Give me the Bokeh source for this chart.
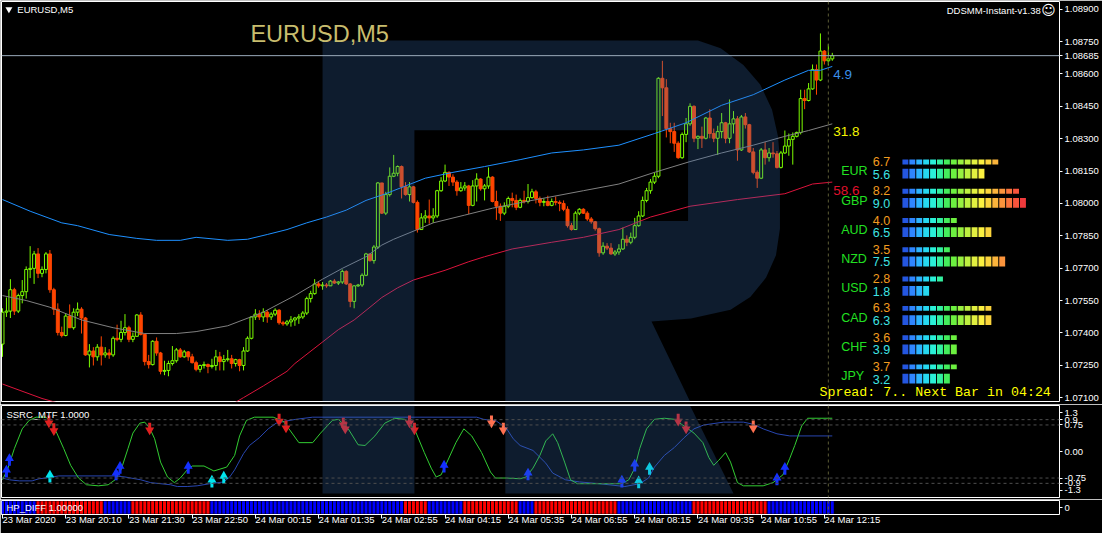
import math
from bokeh.plotting import figure
from bokeh.models import Range1d, FixedTicker, Span, PrintfTickFormatter
from bokeh.layouts import column
from bokeh.embed import file_html
from bokeh.resources import INLINE
from bokeh.core.properties import value

# ---------------- data: EURUSD M5 candles (prices in points, 1e-5) ----------------
open0 = 107348
close_pts = [107496,107501,107600,107501,107573,107591,107694,107699,107766,107676,
             107694,107766,107600,107510,107402,107388,107478,107424,107496,107510,
             107469,107298,107316,107289,107334,107298,107307,107298,107375,107370,
             107402,107424,107370,107384,107483,107393,107267,107253,107361,107307,
             107222,107226,107258,107271,107321,107289,107312,107289,107262,107231,
             107249,107253,107244,107249,107289,107267,107276,107280,107258,107276,
             107249,107316,107375,107474,107487,107474,107496,107474,107487,107505,
             107447,107442,107451,107460,107469,107474,107492,107559,107582,107627,
             107618,107622,107618,107640,107631,107636,107685,107627,107546,107618,
             107622,107667,107766,107735,107798,108095,107955,108041,108126,108140,
             108171,108077,108041,108077,108005,107879,107933,107942,107933,107942,
             108059,108104,108144,108122,108099,108059,108072,108081,107991,108081,
             108113,108068,108081,108122,108009,107987,107955,107987,108023,108014,
             107982,108014,108009,108027,108054,108023,108005,108009,107991,108009,
             108005,108000,107973,107897,107879,107955,107973,107955,107928,107915,
             107883,107771,107802,107793,107766,107775,107789,107834,107820,107843,
             107897,107942,108014,108059,108099,108126,108580,108536,108347,108333,
             108279,108212,108320,108369,108450,108302,108311,108302,108396,108324,
             108302,108333,108374,108302,108369,108392,108248,108401,108365,108239,
             108144,108117,108248,108212,108234,108230,108167,108234,108266,108297,
             108311,108329,108486,108477,108531,108621,108572,108706,108661,108670,
             108685]
high_pts = [107514,107564,107649,107609,107582,107645,107708,107802,107780,107793,
            107708,107775,107784,107609,107537,107429,107492,107532,107514,107541,
            107519,107474,107348,107334,107348,107384,107334,107325,107384,107438,
            107456,107487,107433,107402,107487,107496,107397,107298,107366,107379,
            107312,107271,107271,107339,107330,107330,107321,107316,107303,107271,
            107253,107267,107258,107280,107321,107312,107298,107321,107298,107280,
            107280,107334,107384,107478,107510,107505,107514,107505,107496,107514,
            107510,107456,107460,107478,107474,107487,107501,107568,107595,107649,
            107636,107636,107631,107645,107649,107640,107694,107690,107631,107622,
            107627,107676,107771,107766,107807,108099,108095,108054,108167,108225,
            108176,108176,108099,108099,108081,108014,107955,107969,108018,107978,
            108063,108122,108180,108149,108135,108108,108099,108099,108086,108108,
            108140,108117,108090,108167,108126,108059,108000,108005,108032,108050,
            108041,108023,108059,108090,108068,108063,108032,108023,108036,108023,
            108032,108014,108014,107987,107910,107964,107978,107978,107964,107937,
            107919,107888,107820,107816,107816,107784,107811,107888,107852,107865,
            107933,107964,108032,108072,108113,108144,108585,108661,108576,108374,
            108374,108288,108329,108396,108464,108455,108315,108356,108401,108437,
            108347,108360,108419,108378,108482,108428,108405,108410,108419,108369,
            108257,108153,108257,108284,108257,108284,108243,108243,108338,108324,
            108329,108333,108527,108527,108558,108644,108644,108788,108711,108738,
            108698]
low_pts = [107289,107474,107469,107483,107492,107537,107559,107654,107627,107654,
           107658,107676,107586,107483,107388,107379,107384,107424,107415,107478,
           107397,107294,107240,107249,107271,107249,107285,107280,107289,107361,
           107357,107388,107357,107357,107384,107388,107249,107235,107249,107294,
           107208,107204,107199,107249,107262,107285,107285,107271,107258,107222,
           107217,107235,107213,107235,107226,107226,107226,107267,107235,107244,
           107222,107226,107312,107370,107460,107460,107451,107447,107460,107478,
           107438,107433,107433,107429,107433,107442,107465,107483,107541,107577,
           107609,107600,107609,107618,107627,107622,107627,107622,107519,107514,
           107613,107613,107663,107730,107721,107789,107951,107946,108032,108122,
           108126,108023,108036,108009,108000,107865,107879,107910,107906,107910,
           107933,108054,108099,108081,108081,108036,108054,108059,107951,107987,
           108009,108059,108014,108068,108005,107924,107919,107946,107978,107982,
           107969,107978,108000,108000,108023,108000,107987,107987,107987,107987,
           107991,107964,107964,107888,107874,107879,107946,107951,107919,107906,
           107874,107753,107762,107784,107762,107757,107762,107784,107802,107811,
           107834,107892,107937,108005,108045,108090,108117,108405,108306,108279,
           108239,108207,108207,108284,108360,108284,108252,108257,108297,108302,
           108284,108225,108302,108279,108279,108324,108198,108243,108347,108234,
           108135,108072,108113,108180,108194,108212,108162,108162,108230,108221,
           108180,108306,108320,108437,108473,108527,108504,108567,108644,108639,
           108661]
current_price = 1.08685

# channel lines (sampled vertices: bar index, price points)
blue_idx = [0,7,15,19,27,34,39,45,49,57,62,67,72,77,82,87,92,97,102,107,114,122,131,139,147,156,165,173,182,190,198,204,207,210]
blue_pts = [108018,107964,107910,107897,107856,107838,107829,107829,107843,107829,107834,107856,107879,107910,107937,107969,108014,108045,108081,108117,108144,108171,108203,108234,108248,108270,108324,108374,108455,108504,108572,108617,108617,108635]
gray_idx = [0,6,12,20,28,36,44,49,57,66,74,81,86,92,96,99,105,109,117,124,134,147,156,165,174,182,190,198,204,210]
gray_pts = [107573,107550,107519,107460,107424,107397,107397,107406,107433,107496,107573,107649,107699,107753,107807,107834,107879,107910,107946,107978,108014,108059,108090,108144,108194,108234,108270,108311,108338,108369]
red_idx = [0,10,25,40,50,61,66,72,74,85,89,93,96,100,104,112,118,122,129,139,147,156,164,174,186,198,205,210]
red_pts = [107163,107096,107019,106965,106983,107100,107154,107222,107258,107415,107460,107519,107564,107609,107645,107690,107730,107753,107789,107820,107843,107879,107937,107987,108018,108045,108090,108099]
band_texts = ["4.9", "31.8", "58.6"]

price_ticks = [1.07100,1.07250,1.07400,1.07550,1.07700,1.07850,1.08000,1.08150,1.08300,1.08450,1.08600,1.08750,1.08900]

# currency strength meter
currencies = ["EUR","GBP","AUD","NZD","USD","CAD","CHF","JPY"]
strength_a = [6.7, 8.2, 4.0, 3.5, 2.8, 6.3, 3.6, 3.7]
strength_b = [5.6, 9.0, 6.5, 7.5, 1.8, 6.3, 3.9, 3.2]

# SSRC_MTF oscillator
ssrc_idx = [0,1.25,3,5,6.75,8.5,11,12.5,13.75,15.5,17.25,19.25,21.25,24.25,26.75,28.5,30,31.75,33,34.75,36,37.25,38.5,40,41.75,43.5,45,46.75,48,51,53.5,56.75,58.75,60,61.75,63.75,68.5,71,72.5,75,78.5,80.5,83.5,85,87.5,90,91.75,94.25,96.75,99.25,101.75,104.25,106.75,108.5,109.75,111,112.5,114.75,116.75,118.75,121.25,123.5,124.75,127.5,131,132.5,134.25,136,137.5,139.25,140.5,142.25,143.75,145.5,156.75,158.5,160,161.25,163,165,167.5,170,172.5,175,177.25,178.75,180,181.25,183,184.25,186,187.5,192.5,195,197.5,199.25,200.5,202.25,203.75,210]
ssrc_val = [-0.80,-0.52,0.08,0.64,0.88,0.97,0.97,0.80,0.52,0.08,-0.39,-0.75,-0.94,-0.97,-0.94,-0.80,-0.52,0.08,0.52,0.80,0.83,0.66,0.36,-0.30,-0.72,-0.88,-0.75,-0.52,-0.41,-0.41,-0.55,-0.44,-0.11,0.44,0.88,0.97,0.97,0.86,0.64,0.25,0.25,0.52,0.88,0.91,0.64,0.19,0.17,0.44,0.80,0.94,0.91,0.64,-0.03,-0.47,-0.72,-0.66,-0.30,0.25,0.64,0.44,-0.03,-0.58,-0.75,-0.75,-0.77,-0.72,-0.47,-0.11,0.30,0.50,0.25,-0.30,-0.80,-0.91,-0.91,-0.80,-0.47,0.08,0.64,0.91,0.94,0.91,0.72,0.52,0.25,-0.17,-0.39,-0.25,-0.03,-0.30,-0.88,-0.97,-0.97,-0.88,-0.66,-0.19,0.17,0.72,0.94,0.94]
mtf_idx = [0,1.75,4.25,7.5,9.25,11,14.25,28.5,31,35,37.5,42.5,44.25,46.75,49.25,52.5,56,57.5,58.75,61,62.5,65,67.25,69.25,71.75,74.25,78.5,120,121.75,125,127.5,129.25,131,134.25,137.5,139.25,142.5,146,151,157.5,161.25,163.5,165,167.5,170,172.5,175,177.5,182.5,187.5,190,192.5,196,199.25,210]
mtf_val = [-0.75,-0.80,-0.83,-0.83,-0.77,-0.75,-0.69,-0.69,-0.72,-0.80,-0.88,-0.94,-0.99,-0.99,-0.97,-0.91,-0.86,-0.72,-0.52,-0.06,0.17,0.39,0.64,0.80,0.86,0.91,0.97,0.97,0.91,0.86,0.66,0.36,0.17,0.03,-0.33,-0.61,-0.80,-0.86,-0.91,-0.99,-0.91,-0.75,-0.44,-0.11,0.11,0.39,0.64,0.75,0.83,0.83,0.77,0.64,0.50,0.44,0.44]
ssrc_levels = [0.9, 0.75, -0.75, -0.9]

dn_red_idx = [11.75,13,37.25,70,71.75,86.25,86.75,103,104.25,171,173]
dn_red_val = [0.86,0.64,0.66,0.91,0.72,0.80,0.69,0.86,0.66,0.91,0.69]
dn_sal_idx = [123.75,126.75,190]
dn_sal_val = [0.86,0.66,0.72]
up_blue_idx = [1,1.75,28.75,29.75,47,111.75,133,156.75,160,196,198]
up_blue_val = [-0.58,-0.25,-0.66,-0.47,-0.47,-0.44,-0.66,-0.86,-0.41,-0.80,-0.50]
up_cyan_idx = [12,53,56,161,163.75]
up_cyan_val = [-0.72,-0.86,-0.75,-0.88,-0.50]

# HP_DIFF state runs (bars per run, +1 blue / -1 red)
hp_run_len = [9,17,7,20,49,6,9,14,4,21,19,19,17]
hp_run_sign = [1,-1,1,-1,1,-1,1,-1,1,-1,1,-1,1]

time_ticks = [0,16,32,48,64,80,96,112,128,144,160,176,192,208]
time_labels = ["23 Mar 2020","23 Mar 20:10","23 Mar 21:30","23 Mar 22:50","24 Mar 00:15",
               "24 Mar 01:35","24 Mar 02:55","24 Mar 04:15","24 Mar 05:35","24 Mar 06:55",
               "24 Mar 08:15","24 Mar 09:35","24 Mar 10:55","24 Mar 12:15"]
shift_bar = 209

# ---------------- styling constants ----------------
FW = 1058
FONT = "Liberation Sans"
GREEN = "#7cfc00"
RED = "#ff4500"
LOGO = "#3870b8"
SEG_COLORS = ["#2456e0","#2f86ff","#2db4ff","#26d8f0","#2af0d8","#34f0a0","#44ee5c","#6cf040",
              "#98f040","#bef040","#e2f040","#fbf040","#fbd43c","#fbb43c","#fb943c","#fb743c",
              "#f8543c","#f03a3c"]

xr = Range1d(-0.25, 267.5)


def base_fig(frame_h, yr, **kw):
    f = figure(frame_width=FW, frame_height=frame_h, x_range=xr, y_range=yr,
               output_backend="svg", toolbar_location=None, y_axis_location="right",
               min_border_left=1, min_border_right=43,
               background_fill_color="black", border_fill_color="black",
               outline_line_color="white", outline_line_width=1, **kw)
    f.grid.visible = False
    ax = f.yaxis[0]
    ax.axis_line_color = None
    ax.major_tick_line_color = "white"
    ax.major_tick_out = 3
    ax.major_tick_in = 0
    ax.minor_tick_line_color = None
    ax.major_label_text_color = "white"
    ax.major_label_text_font = FONT
    ax.major_label_text_font_size = "9.5px"
    ax.major_label_standoff = 2
    f.add_layout(Span(location=shift_bar, dimension="height", line_color="#5c5c36",
                      line_dash="3 3", line_width=1))
    return f


def txt(fig, x, y, text, color, size, font=FONT, align="left", baseline="middle", **kw):
    fig.text(x=x, y=y, text=text, text_color=color, text_font=value(font),
             text_font_size=value(size), text_align=align, text_baseline=baseline, **kw)


# ---------------- main price panel ----------------
p = base_fig(400, Range1d(1.07082, 1.08936), x_axis_location=None,
             min_border_top=1, min_border_bottom=3)
p.extra_x_ranges = {"px": Range1d(2, 1073)}
p.extra_y_ranges = {"py": Range1d(412, 2)}
p.yaxis[0].ticker = FixedTicker(ticks=price_ticks + [current_price])
p.yaxis[0].formatter = PrintfTickFormatter(format="%.5f")

n = len(close_pts)
idx = list(range(n))
O = [v / 1e5 for v in [open0] + close_pts[:-1]]
C = [v / 1e5 for v in close_pts]
H = [max(h / 1e5, o, c) for h, o, c in zip(high_pts, O, C)]
L = [min(l / 1e5, o, c) for l, o, c in zip(low_pts, O, C)]
up = [c >= o for o, c in zip(O, C)]
col = [GREEN if u else RED for u in up]
fill = ["black" if u else RED for u in up]

p.segment(x0=idx, y0=L, x1=idx, y1=H, line_color=col, line_width=1)
p.vbar(x=idx, width=0.75, top=[max(o, c) for o, c in zip(O, C)],
       bottom=[min(o, c) for o, c in zip(O, C)], fill_color=fill, line_color=col, line_width=1)

p.line(blue_idx, [v / 1e5 for v in blue_pts], line_color="#1e90ff", line_width=1)
p.line(gray_idx, [v / 1e5 for v in gray_pts], line_color="#808080", line_width=1)
p.line(red_idx, [v / 1e5 for v in red_pts], line_color="#dc143c", line_width=1)

p.add_layout(Span(location=current_price, dimension="width", line_color="#9aaabb", line_width=1))

# distances at the ends of the channel lines
ends = [blue_pts[-1] / 1e5, gray_pts[-1] / 1e5, red_pts[-1] / 1e5]
for t, yv, c in zip(band_texts, ends, ["#3a8ee8", "#f5f500", "#e0102c"]):
    p.text(x=[blue_idx[-1]], y=[yv], text=[t], text_color=c, text_font=value(FONT),
           text_font_size=value("13.5px"), text_align="left", text_baseline="middle",
           x_offset=1, y_offset=8)

# logo watermark (drawn over the chart, semi-transparent)
p.patch(x=[327, 707, 730, 753, 770, 782, 788, 790, 790, 786, 776, 760, 740, 700, 660, 699,
           512, 512, 697, 697, 420, 420, 327],
        y=[42, 42, 50, 67, 87, 113, 140, 163, 235, 262, 285, 305, 318, 327, 330, 412,
           412, 227, 227, 134, 134, 412, 412],
        x_range_name="px", y_range_name="py", fill_color=LOGO, fill_alpha=0.25, line_color=None)

# currency strength meter
sx, sy, sw, sh, sc = [], [], [], [], []
for k, (a, b) in enumerate(zip(strength_a, strength_b)):
    for row, (v, yc, hh) in enumerate([(a, 166.5, 5), (b, 178.5, 10)]):
        for j in range(math.ceil(round(2 * v, 6))):
            sx.append(914 + 7 * j + 3)
            sy.append(yc + 30 * k)
            sw.append(6)
            sh.append(hh)
            sc.append(SEG_COLORS[j])
p.rect(x=sx, y=sy, width=sw, height=sh, fill_color=sc, line_color=None,
       x_range_name="px", y_range_name="py")
rows_y = [30 * k for k in range(len(currencies))]
txt(p, [852] * 8, [176 + r for r in rows_y], currencies, "#22e022", "12.5px",
    x_range_name="px", y_range_name="py")
txt(p, [884] * 8, [166 + r for r in rows_y], [f"{v:.1f}" for v in strength_a], "#f39c1f", "12.5px",
    x_range_name="px", y_range_name="py")
txt(p, [884] * 8, [179 + r for r in rows_y], [f"{v:.1f}" for v in strength_b], "#3ee4e4", "12.5px",
    x_range_name="px", y_range_name="py")
txt(p, [830], [403], ["Spread: 7.. Next Bar in 04:24"], "#ffff00", "13.3px",
    font="Liberation Mono", x_range_name="px", y_range_name="py")

# header texts
txt(p, [254], [35], ["EURUSD,M5"], "#c8bd6e", "23.5px", x_range_name="px", y_range_name="py")
txt(p, [18], [10], ["EURUSD,M5"], "white", "9.5px", x_range_name="px", y_range_name="py")
p.scatter(x=[9.5], y=[10], marker="inverted_triangle", size=7, fill_color="white",
          line_color=None, x_range_name="px", y_range_name="py")
txt(p, [1054], [11], ["DDSMM-Instant-v1.38"], "white", "9.5px", align="right",
    x_range_name="px", y_range_name="py")
txt(p, [1062], [11], ["\u263a"], "white", "14px", font="DejaVu Sans", align="center",
    x_range_name="px", y_range_name="py")

# ---------------- SSRC_MTF panel ----------------
s = base_fig(92, Range1d(-1.3, 1.3), x_axis_location=None, min_border_top=1, min_border_bottom=2)
s.extra_x_ranges = {"px": Range1d(2, 1073)}
s.extra_y_ranges = {"py": Range1d(508, 414)}
s.yaxis[0].ticker = FixedTicker(ticks=[1.1, 0.9, 0.75, 0, -0.75, -0.9, -1.1])
s.yaxis[0].major_label_overrides = {1.1: "1.3", 0.9: "0.9", 0.75: "0.75", 0: "0.00",
                                    -0.75: "-0.75", -0.9: "-0.9", -1.1: "-1.3"}
for lv in ssrc_levels:
    s.add_layout(Span(location=lv, dimension="width", line_color="#4e4e4e",
                      line_dash="3 3", line_width=1))
s.line(mtf_idx, mtf_val, line_color="#2846b0", line_width=1)
s.line(ssrc_idx, ssrc_val, line_color="#32cd32", line_width=1)

PXU = 2.6 / 92


def arrows(fig, xs, ys, color, is_up):
    sgn = 1 if is_up else -1
    fig.rect(x=xs, y=[v - sgn * 2.5 * PXU for v in ys], width=3, height=6,
             width_units="screen", height_units="screen", fill_color=color, line_color=None)
    fig.scatter(x=xs, y=[v + sgn * 2.0 * PXU for v in ys],
                marker="triangle" if is_up else "inverted_triangle", size=9,
                fill_color=color, line_color=None)


arrows(s, dn_red_idx, dn_red_val, "#e02020", False)
arrows(s, dn_sal_idx, dn_sal_val, "#ff7050", False)
arrows(s, up_blue_idx, up_blue_val, "#1430ff", True)
arrows(s, up_cyan_idx, up_cyan_val, "#00e5ee", True)

s.patch(x=[327, 420, 420, 327], y=[414, 414, 504, 504], x_range_name="px", y_range_name="py",
        fill_color=LOGO, fill_alpha=0.25, line_color=None)
s.patch(x=[512, 699, 743, 512], y=[414, 414, 504, 504], x_range_name="px", y_range_name="py",
        fill_color=LOGO, fill_alpha=0.25, line_color=None)
txt(s, [7], [423], ["SSRC_MTF 1.0000"], "white", "9.5px", x_range_name="px", y_range_name="py")

# ---------------- HP_DIFF panel ----------------
h = base_fig(14, Range1d(-0.05, 1.05), min_border_top=1, min_border_bottom=16)
h.extra_x_ranges = {"px": Range1d(2, 1073)}
h.yaxis[0].ticker = FixedTicker(ticks=[0.5])
h.yaxis[0].major_label_overrides = {0.5: "0"}
hp_sign = []
for ln, sg in zip(hp_run_len, hp_run_sign):
    hp_sign += [sg] * ln
h.vbar(x=list(range(len(hp_sign))), width=0.75, top=1, bottom=0,
       fill_color=["#0000ff" if v > 0 else "#ff0000" for v in hp_sign], line_color=None)
txt(h, [7], [0.5], ["HP_DIFF 1.00000"], "white", "9.5px", x_range_name="px")

xa = h.xaxis[0]
xa.ticker = FixedTicker(ticks=time_ticks)
xa.major_label_overrides = dict(zip(time_ticks, time_labels))
xa.major_label_orientation = -0.0001
xa.axis_line_color = None
xa.major_tick_line_color = "white"
xa.major_tick_out = 4
xa.major_tick_in = 0
xa.minor_tick_line_color = None
xa.major_label_text_color = "white"
xa.major_label_text_font = FONT
xa.major_label_text_font_size = "9.5px"
xa.major_label_standoff = 1

layout = column(p, s, h, spacing=0)
open("out.html", "w").write(file_html(layout, INLINE))
